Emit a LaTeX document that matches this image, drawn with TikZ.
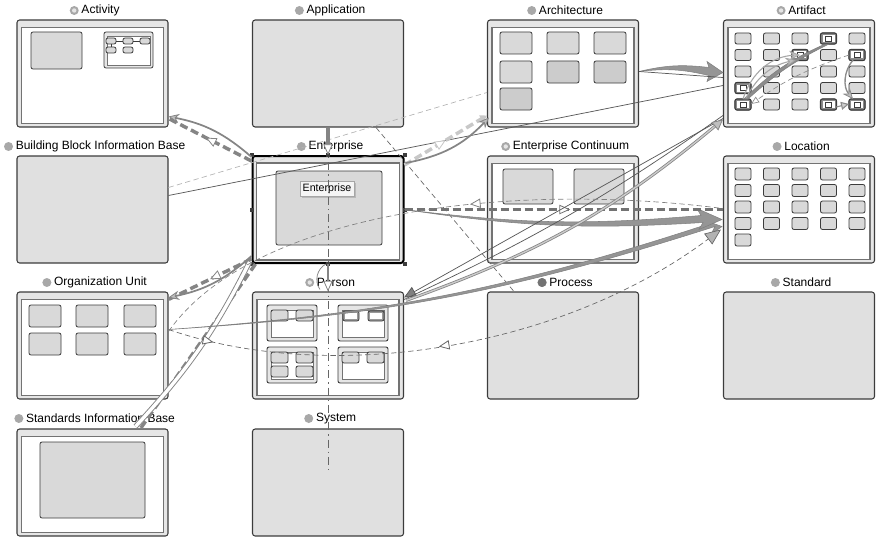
\documentclass[tikz,border=0pt]{standalone}
\usepackage{fontspec}
\setmainfont{Liberation Sans}
\usetikzlibrary{arrows.meta,calc,decorations.markings,positioning,shadows}

\definecolor{panelfill}{HTML}{E0E0E0}
\definecolor{framefill}{HTML}{E6E6E6}
\definecolor{boxfill}{HTML}{D9D9D9}
\definecolor{edgegray}{HTML}{3C3C3C}
\definecolor{linkgray}{HTML}{858585}
\definecolor{lightlink}{HTML}{C8C8C8}
\definecolor{dotgray}{HTML}{A8A8A8}
\definecolor{wedgegray}{HTML}{959595}

\tikzset{
  panel/.style={draw=edgegray, fill=panelfill, rounded corners=2pt, line width=0.8pt,
    minimum width=113.25pt, minimum height=80.25pt, inner sep=0pt},
  framed/.style={panel, fill=framefill},
  innerframe/.style={draw=black!55, fill=white, line width=1pt},
  sbox/.style={draw=edgegray, fill=boxfill, rounded corners=1.5pt, line width=0.6pt},
  caption/.style={font=\fontsize{9}{10}\selectfont, inner sep=0pt},
  handle/.style={fill=edgegray, minimum size=3pt, inner sep=0pt},
  tooltip/.style={font=\fontsize{8}{9}\selectfont, fill=black!4, draw=black!35, line width=0.4pt,
    inner sep=2pt, drop shadow={opacity=0.35, shadow xshift=1.2pt, shadow yshift=-1.2pt}},
  thickdash/.style={draw=linkgray, line width=2.6pt, dash pattern=on 6pt off 3pt},
  lightdash/.style={thickdash, draw=lightlink},
  curvelink/.style={draw=linkgray, line width=1.3pt,
    -{Stealth[length=8pt,width=7pt,fill=black!25,line width=0.6pt]}},
  thinlink/.style={draw=black!65, line width=0.55pt},
  thindash/.style={draw=black!60, line width=0.5pt, dash pattern=on 4pt off 2.5pt},
  wedge/.style={fill=wedgegray, draw=black!50, line width=0.4pt},
  opentri/.tip={Triangle[open,length=8pt,width=7pt,fill=white,line width=0.6pt]},
  midtri/.style={postaction={decorate}, decoration={markings,
    mark=at position #1 with {\arrow{opentri}}}},
  backtri/.style={postaction={decorate}, decoration={markings,
    mark=at position #1 with {\arrowreversed{opentri}}}},
  twotri/.style 2 args={postaction={decorate}, decoration={markings,
    mark=at position #1 with {\arrow{opentri}},
    mark=at position #2 with {\arrowreversed{opentri}}}}
}

\begin{document}
\begin{tikzpicture}[x=0.75pt,y=-0.75pt]
\useasboundingbox (0,0) rectangle (880,542);

% panels
\node[framed] (act) at (92.5,73.5) {};
\node[panel] (app) at (328,73.5) {};
\node[framed] (arc) at (563,73.5) {};
\node[framed] (art) at (799,73.5) {};
\node[panel] (bbib) at (92.5,209.5) {};
\node[framed, draw=black, line width=1.5pt] (ent) at (328,209.5) {};
\node[framed] (ec) at (563,209.5) {};
\node[framed] (loc) at (799,209.5) {};
\node[framed] (org) at (92.5,345.5) {};
\node[framed] (per) at (328,345.5) {};
\node[panel] (proc) at (563,345.5) {};
\node[panel] (std) at (799,345.5) {};
\node[framed] (sib) at (92.5,482.5) {};
\node[panel] (sys) at (328,482.5) {};

\foreach \p in {act,arc,art,ent,ec,loc,org,per,sib}
  \draw[innerframe] ($(\p.north west)+(5,8)$) rectangle ($(\p.south east)+(-5,-4)$);

% captions
\foreach \n/\x/\y/\t in {act/92.5/10/Activity, app/328/10/Application, arc/563/10/Architecture,
    art/799/10/Artifact, bbib/92.5/146/Building Block Information Base, ent/328/146/Enterprise,
    ec/563/146/Enterprise Continuum, loc/799/146/Location, org/92.5/282/Organization Unit,
    per/328/282/Person, proc/563/282/Process, std/799/282/Standard,
    sib/92.5/418/Standards Information Base, sys/328/418/System}{
  \node[caption] (lbl-\n) at (\x+8,\y+0.5) {\t};
  \fill[dotgray] ($(lbl-\n.west)+(-7,0)$) circle (4.5);
}
\foreach \n in {act,art,ec,per}
  \fill[black!10] ($(lbl-\n.west)+(-7,0)$) circle (2.2);
\fill[black!55] ($(lbl-proc.west)+(-7,0)$) circle (4.5);

% activity content
\draw[sbox] (31,32) rectangle (82,69);
\draw[sbox, fill=framefill] (104,32) rectangle (153,68);
\draw[innerframe, line width=0.7pt] (107,36) rectangle (150,65);
\foreach \x in {106,123,140} \draw[sbox] (\x,38) rectangle ++(10,6);
\foreach \x in {106,123} \draw[sbox] (\x,47) rectangle ++(10,6);
\draw[edgegray, line width=0.5pt] (116,41) -- (123,41) (133,41) -- (140,41) (111,44) -- (111,47);

% architecture content
\foreach \x/\y/\f in {500/32/boxfill, 547/32/boxfill, 594/32/boxfill, 500/61/boxfill,
    547/61/black!20, 594/61/black!20, 500/88/black!20}
  \draw[sbox, fill=\f] (\x,\y) rectangle ++(32,22);

% artifact content
\foreach \x in {735,763.5,792,820.5,849}
  \foreach \y in {33,49.5,66,82.5,99}
    \draw[sbox] (\x,\y) rectangle ++(16,11);
\foreach \x/\y in {820.5/33, 792/49.5, 849/49.5, 735/82.5, 735/99, 820.5/99, 849/99}{
  \draw[sbox, fill=black!45, line width=0.8pt] (\x,\y) rectangle ++(16,11);
  \draw[fill=white, draw=none] (\x+2,\y+2) rectangle ++(12,7);
  \draw[edgegray, line width=0.4pt] (\x+5,\y+3) rectangle ++(6,5);
}
% links between artifacts
\fill[wedge, fill=black!45] (744,99) to[bend left=10] (823,45) -- (829,44) to[bend right=8] (748,99) -- cycle;
\draw[curvelink, draw=black!35, line width=0.8pt] (743,99) to[bend left=35] (800,55);
\draw[curvelink, draw=black!35, line width=0.8pt] (746,98) to[bend left=25] (796,60);
\draw[thindash, draw=black!45, -{Triangle[open,length=6pt,width=5pt,fill=white]}] (849,55) to[bend right=8] (751,104);
\draw[curvelink, draw=black!45, line width=1pt] (853,60) to[bend right=40] (853,99);
\draw[draw=black!45, line width=0.8pt, -{Triangle[length=6pt,width=6pt,fill=black!20]}] (836,107) -- (849,104);

% enterprise content
\draw[sbox] (276,171) rectangle (382,245);
\node[tooltip] (tip) at (327,189) {Enterprise};
\foreach \a in {north west,north,north east,east,south east,south,south west,west}
  \node[handle] at (ent.\a) {};

% enterprise continuum content
\draw[sbox] (503,169) rectangle (553,204);
\draw[sbox] (574,169) rectangle (624,204);

% location content
\foreach \x in {735,763.5,792,820.5,849}
  \foreach \y in {168,184.5,201,217.5}
    \draw[sbox] (\x,\y) rectangle ++(16,12);
\draw[sbox] (735,234) rectangle ++(16,12);

% organization unit content
\foreach \x in {29,76,124}
  \foreach \y in {305,333}
    \draw[sbox] (\x,\y) rectangle ++(32,22);

% person content
\foreach \x/\y in {267/305, 338/305, 267/347, 338/347}{
  \draw[sbox, fill=framefill, line width=0.7pt] (\x,\y) rectangle ++(50,36);
  \draw[innerframe, line width=0.7pt] (\x+4,\y+5) rectangle ++(42,27);
}
\foreach \x in {271,296,342,367} \draw[sbox] (\x,352) rectangle ++(17,11);
\foreach \x in {271,296} \draw[sbox] (\x,310) rectangle ++(17,11);
\foreach \x in {271,296} \draw[sbox] (\x,366) rectangle ++(17,11);
\foreach \x in {343,368}{
  \draw[sbox, fill=black!40] (\x,311) rectangle ++(16,10);
  \fill[white] (\x+2,313) rectangle ++(12,6);
}

% standards information base content
\draw[sbox] (40,442) rectangle (145,518);

% connectors
\draw[thinlink] ($(bbib.east)+(0,-14)$) -- ($(art.west)+(0,12)$);
\draw[thindash, draw=black!30] ($(bbib.east)+(0,-22)$) -- ($(arc.west)+(0,19)$);
\draw[thindash, dash pattern=on 6pt off 3pt on 1pt off 3pt] (app.south) -- ($(sys.north)+(0,42)$);
\draw[thindash] ($(app.south east)+(-28,0)$) -- ($(proc.north west)+(27,0)$);

\draw[thickdash, midtri=0.55] ($(ent.north west)+(0,6)$) -- ($(act.south east)+(0,-9)$);
\draw[curvelink] ($(ent.north west)+(0,2)$) to[bend right=15] ($(act.south east)+(0,-11)$);

\draw[lightdash, midtri=0.5, -{Triangle[length=5pt,width=6pt,fill=lightlink]}] ($(ent.north east)+(0,10)$) -- ($(arc.south west)+(0,-12)$);
\draw[curvelink] ($(ent.north east)+(1,8)$) to[bend right=18] ($(arc.south west)+(2,-10)$);

\draw[thickdash, midtri=0.5] ($(ent.south west)+(0,-5)$) -- ($(org.north east)+(0,8)$);
\draw[curvelink] ($(ent.south west)+(0,-8)$) to[bend left=15] ($(org.north east)+(0,6)$);

\draw[thickdash] ($(ent.south west)+(4,0)$) -- ($(sib.north east)+(-28,0)$);
\draw[draw=linkgray, double=white, line width=0.7pt, double distance=2.5pt]
  ($(ent.south west)+(-2,-2)$) to[bend left=8] ($(sib.north east)+(-33,-2)$);

\draw[draw=linkgray, line width=3pt, -opentri] (app.south) -- (ent.north);
\draw[draw=linkgray, line width=1.2pt, -opentri] (ent.south) -- (per.north);
\draw[thinlink, draw=linkgray] ($(ent.south)+(-2,0)$) to[bend right=50] ($(per.north)+(-8,-2)$);

% fat arrows
\fill[wedge] ($(org.east)+(0,-16)$) to[bend right=7] ($(loc.west)+(-8,17)$) -- ($(loc.west)+(-12,25)$)
  -- ($(loc.west)+(-1,17)$) -- ($(loc.west)+(-18,11)$) -- ($(loc.west)+(-10,13)$) to[bend left=7] cycle;
\fill[wedge] (ent.east) to[bend right=6] ($(loc.west)+(-20,13)$) -- ($(loc.west)+(-24,20)$)
  -- ($(loc.west)+(-1,10)$) -- ($(loc.west)+(-26,-1)$) -- ($(loc.west)+(-22,6)$) to[bend left=6] cycle;
\fill[wedge] ($(arc.east)+(0,-2)$) to[bend left=10] ($(art.west)+(-14,-6)$) -- ($(art.west)+(-16,-12)$)
  -- ($(art.west)+(0,-1)$) -- ($(art.west)+(-16,8)$) -- ($(art.west)+(-14,2)$) to[bend right=10] cycle;
\draw[thinlink] ($(arc.east)+(0,-2)$) -- ($(art.west)+(0,4)$);

\draw[thickdash, draw=black!55, midtri=0.52] (ent.east) -- (loc.west);

% person and artifact
\draw[thinlink, {Triangle[length=9pt,width=8pt,fill=black!50]}-] ($(per.north east)+(0,6)$) -- ($(art.south west)+(0,-9)$);
\draw[thinlink] ($(per.north east)+(0,8)$) to[bend right=5] ($(art.south west)+(0,-12)$);
\draw[draw=linkgray, double=white!80!black, line width=0.6pt, double distance=1pt,
  -{Triangle[length=8pt,width=8pt,fill=black!25]}] ($(per.north east)+(2,9)$) to[bend right=10] ($(art.south west)+(0,-8)$);

% organization unit to location
\draw[thindash, twotri={0.08}{0.47}, -{Triangle[length=12pt,width=10pt,fill=black!30]}]
  ($(org.east)+(0,-16)$) .. controls (330,385) and (560,350) .. ($(loc.west)+(-2,20)$);
\draw[thindash, draw=black!50, backtri=0.57] ($(org.east)+(0,-14)$) .. controls (250,215) and (500,180) .. ($(loc.west)+(0,-1)$);
\end{tikzpicture}
\end{document}
